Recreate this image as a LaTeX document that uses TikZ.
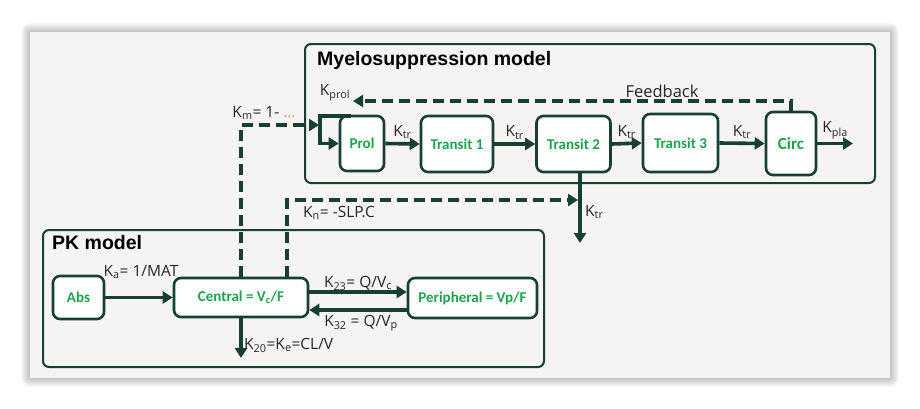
\documentclass[tikz,border=0pt]{standalone}
\usepackage{fontspec}
\setmainfont{Open Sans}
\newfontfamily\boxfont{Carlito}
\newfontfamily\titlefont{Liberation Sans}
\usetikzlibrary{arrows.meta}
\definecolor{lc}{HTML}{173F33}
\definecolor{tg}{HTML}{1AA54B}
\definecolor{panel}{HTML}{F5F4F2}
\definecolor{dotc}{HTML}{C9A46A}
\begin{document}
\begin{tikzpicture}[x=1pt,y=-1pt,
  box/.style={draw=lc,line width=2.6pt,fill=white,rounded corners=7pt,inner sep=0pt,
    font=\boxfont\bfseries\fontsize{15}{15}\selectfont,text=tg},
  model/.style={draw=lc,line width=2pt,rounded corners=6pt},
  ttl/.style={font=\titlefont\bfseries\fontsize{19.5}{19.5}\selectfont,anchor=west,inner sep=0pt},
  lbl/.style={font=\fontsize{15.5}{15.5}\selectfont,inner sep=0pt,text=black!85},
  arr/.style={draw=lc,line width=3.6pt,-{Triangle[width=12pt,length=10pt]}},
  dsh/.style={draw=lc,line width=3.6pt,dash pattern=on 11pt off 6pt,-{Triangle[width=12pt,length=10pt]}}
]
\useasboundingbox (0,0) rectangle (920,408);
% shadow
\foreach \i in {1,...,9}{
  \fill[black,opacity=0.028,rounded corners=\i pt] (30-\i,32-\i) rectangle (890+\i,378+\i);
}
\fill[panel] (30,32) rectangle (890,378);

% model frames
\draw[model] (305,44) rectangle (875,183);
\draw[model] (43,230) rectangle (544,367);
\node[ttl] (ttlm) at (317,60) {Myelosuppression model};
\node[ttl] (ttlp) at (52,243) {PK model};

% myelo boxes
\node[box,minimum width=44pt,minimum height=55pt] (prol) at (362,143.5) {Prol};
\node[box,minimum width=72pt,minimum height=56pt] (t1) at (457,144) {Transit 1};
\node[box,minimum width=74pt,minimum height=56pt] (t2) at (573.5,144) {Transit 2};
\node[box,minimum width=75pt,minimum height=58pt] (t3) at (680.5,143) {Transit 3};
\node[box,minimum width=50pt,minimum height=63pt,font=\boxfont\bfseries\fontsize{17}{17}\selectfont] (circ) at (791,143.5) {Circ};

% PK boxes
\node[box,minimum width=51pt,minimum height=43pt] (abs) at (78.5,297.5) {Abs};
\node[box,minimum width=134pt,minimum height=39pt] (cen) at (241,297.5) {Central = V\textsubscript{c}/F};
\node[box,minimum width=129pt,minimum height=40pt] (per) at (472.5,298) {Peripheral = Vp/F};

% myelo chain
\draw[arr] (prol.east) -- (t1.west) node[lbl,midway,above=3pt] {K\textsubscript{tr}};
\draw[arr] (t1.east) -- (t2.west) node[lbl,midway,above=3pt] {K\textsubscript{tr}};
\draw[arr] (t2.east) -- (t3.west) node[lbl,midway,above=3pt] {K\textsubscript{tr}};
\draw[arr] (t3.east) -- (circ.west) node[lbl,midway,above=3pt] {K\textsubscript{tr}};
\coordinate (kplaend) at (853,143.5);
\draw[arr] (circ.east) -- (kplaend) node[lbl,midway,above=3pt] {K\textsubscript{pla}};

% feedback
\coordinate (fbend) at (353,101);
\draw[dsh] (circ.north) |- (fbend);
\node[lbl,font=\fontsize{16.5}{16.5}\selectfont] (fblbl) at (662,91) {Feedback};
\node[lbl] (kprol) at (335,93) {K\textsubscript{prol}};

% bracket into Prol
\coordinate (brtop) at (351,116);
\coordinate (brc) at (320,143.5);
\draw[arr] (brtop) -| (brc) -- (prol.west);

% Km dashed
\coordinate (kmend) at (319,125);
\draw[dsh] (cen.north) |- (kmend);
\node[lbl] (kmlbl) at (264,113) {K\textsubscript{m}= 1- {\color{dotc}\textellipsis}};

% Kn dashed
\coordinate (kndrop) at (580,172);
\coordinate (knend) at (578,200);
\draw[dsh] ([xshift=46pt]cen.north) |- (knend);
\node[lbl] (knlbl) at (339,213) {K\textsubscript{n}= -SLP.C};

% Transit 2 outflow
\coordinate (t2out) at (580,243);
\draw[arr] (kndrop) -- (t2out);
\node[lbl,anchor=west] (ktrlbl) at (585,212) {K\textsubscript{tr}};

% PK arrows
\draw[arr] (abs.east) -- (cen.west);
\node[lbl] (kalbl) at (141,272) {K\textsubscript{a}= 1/MAT};
\coordinate (up) at (0,292);
\coordinate (dn) at (0,310);
\draw[arr] (cen.east |- up) -- (per.west |- up);
\draw[arr] (per.west |- dn) -- (cen.east |- dn);
\node[lbl] (k23) at (358,283) {K\textsubscript{23}= Q/V\textsubscript{c}};
\node[lbl] (k32) at (361,323) {K\textsubscript{32} = Q/V\textsubscript{p}};
\coordinate (cenout) at (241,358);
\draw[arr] (cen.south) -- (cenout);
\node[lbl,anchor=west] (k20) at (244,345) {K\textsubscript{20}=K\textsubscript{e}=CL/V};
\end{tikzpicture}
\end{document}
